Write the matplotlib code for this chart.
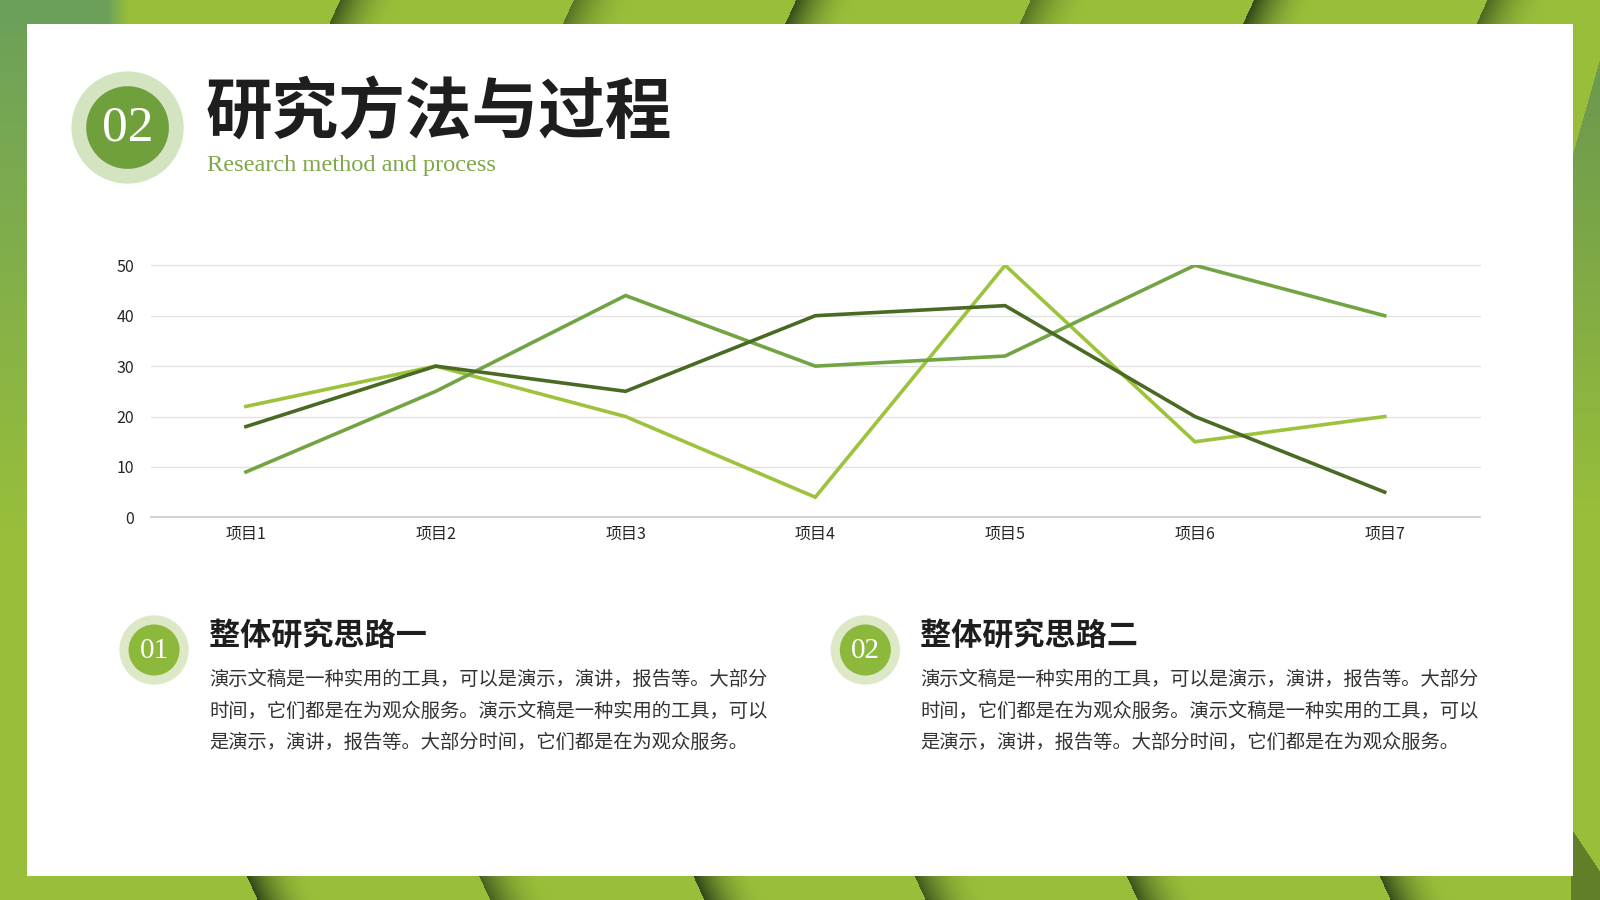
import numpy as np
import matplotlib
matplotlib.use("Agg")
import matplotlib.pyplot as plt
from matplotlib.patches import Rectangle, Circle

plt.rcParams["font.family"] = ["Noto Sans CJK SC", "DejaVu Sans"]

# данные графика
categories = ["项目1", "项目2", "项目3", "项目4", "项目5", "项目6", "项目7"]
series_light = [22, 30, 20, 4, 50, 15, 20]
series_mid = [9, 25, 44, 30, 32, 50, 40]
series_dark = [18, 30, 25, 40, 42, 20, 5]
y_ticks = [0, 10, 20, 30, 40, 50]

title = "研究方法与过程"
subtitle = "Research method and process"
headings = ["整体研究思路一", "整体研究思路二"]
badges = ["01", "02"]
body = ["演示文稿是一种实用的工具，可以是演示，演讲，报告等。大部分",
        "时间，它们都是在为观众服务。演示文稿是一种实用的工具，可以",
        "是演示，演讲，报告等。大部分时间，它们都是在为观众服务。"]

# размеры слайда (в "пикселях" референса)
W, H = 1568, 882

fig = plt.figure(figsize=(16, 9), dpi=100)

# фон с полосами
bg = fig.add_axes([0, 0, 1, 1])
bg.set_xlim(0, W)
bg.set_ylim(H, 0)
bg.axis("off")

xs = np.linspace(0, W, 1600)
ys = np.linspace(0, H, 900)
X, Y = np.meshgrid(xs, ys)
base = np.array([0x98, 0xbe, 0x3a]) / 255
dark = np.array([0x2a, 0x40, 0x16]) / 255
muted = np.array([0x6c, 0xa0, 0x5a]) / 255
img = np.ones((900, 1600, 3)) * base

# левая полоса и левый верхний угол
f = np.clip(1 - Y / 520, 0, 1) * (X < 30)
f = np.maximum(f, np.clip((125 - X) / 20, 0, 1) * (Y < 26))
img = img * (1 - f[..., None]) + muted * f[..., None]


def stripe(x0, top, strength):
    global img
    if top:
        edge = x0 - Y / 24 * 11
        band = Y < 26
    else:
        edge = x0 + (Y - 858) / 24 * 11
        band = Y > 856
    d = X - edge
    k = np.where((d >= 0) & (d < 60) & band, strength * (1 - d / 60) ** 2, 0)
    img = img * (1 - k[..., None]) + dark * k[..., None]


for x0, s in [(333, 0.8), (562, 0.6), (780, 0.9), (1010, 0.6), (1229, 0.95), (1458, 0.7)]:
    stripe(x0, True, s)
for x0, s in [(241, 0.95), (469, 0.75), (679, 0.95), (896, 0.8), (1104, 0.85), (1352, 0.9)]:
    stripe(x0, False, s)

# правая полоса
teal = np.array([0x5e, 0x8e, 0x55]) / 255
r = (X > 1540) & (Y > 60 + (1568 - X) * 3.5)
k = np.where(r, np.clip(1 - (Y - 80) / 420, 0, 1) * 0.75, 0)
img = img * (1 - k[..., None]) + teal * k[..., None]
r2 = (X > 1540) & (Y > 815 + (X - 1542) * 1.5)
k2 = np.where(r2, 0.5, 0)
img = img * (1 - k2[..., None]) + dark * k2[..., None]

bg.imshow(img, extent=(0, W, H, 0), aspect="auto", zorder=0)
bg.add_patch(Rectangle((26, 24), 1516, 834, facecolor="white", edgecolor="none", zorder=1))

# заголовок
bg.add_patch(Circle((125, 125), 55, facecolor="#d4e3c0", edgecolor="none", zorder=2))
bg.add_patch(Circle((125, 125), 40.5, facecolor="#70a03c", edgecolor="none", zorder=3))
bg.text(125, 126, "02", family="Liberation Serif", fontsize=37, color="white",
        ha="center", va="center", zorder=4)
bg.text(201, 112, title, fontsize=48, fontweight="bold", color="#1e1e1e",
        ha="left", va="center", zorder=4)
bg.text(203, 162, subtitle, family="Liberation Serif", fontsize=17.6, color="#7fa84a",
        ha="left", va="center", zorder=4)

# нижние блоки
for i, bx in enumerate([151, 848]):
    bg.add_patch(Circle((bx, 637), 34, facecolor="#dde9c6", edgecolor="none", zorder=2))
    bg.add_patch(Circle((bx, 637), 25, facecolor="#8cb83c", edgecolor="none", zorder=3))
    bg.text(bx, 638, badges[i], family="Liberation Serif", fontsize=21, color="white",
            ha="center", va="center", zorder=4)
    tx = bx + 54
    bg.text(tx, 623, headings[i], fontsize=22.4, fontweight="bold", color="#1e1e1e",
            ha="left", va="center", zorder=4)
    for j, line in enumerate(body):
        bg.text(tx, 666 + j * 31, line, fontsize=13.9, color="#333333",
                ha="left", va="center", zorder=4)

# линейный график
ax = fig.add_axes([148 / W, 1 - 507 / H, (1450 - 148) / W, (507 - 260) / H])
ax.set_facecolor("none")
xpos = np.arange(len(categories))
ax.plot(xpos, series_light, color="#9cc33b", lw=2.6, zorder=3, solid_joinstyle="miter")
ax.plot(xpos, series_mid, color="#73a443", lw=2.6, zorder=4, solid_joinstyle="miter")
ax.plot(xpos, series_dark, color="#4a6a24", lw=2.6, zorder=5, solid_joinstyle="miter")
ax.set_xlim(-0.5, len(categories) - 0.5)
ax.set_ylim(0, 50)
ax.set_yticks(y_ticks)
ax.set_xticks(xpos)
ax.set_xticklabels(categories)
for t in y_ticks[1:]:
    ax.axhline(t, color="#e2e2e2", lw=1, zorder=1, clip_on=False)
for s in ["top", "right", "left"]:
    ax.spines[s].set_visible(False)
ax.spines["bottom"].set_color("#c8c8c8")
ax.spines["bottom"].set_linewidth(1.2)
ax.tick_params(axis="both", length=0, labelsize=11.5, colors="#262626")
ax.tick_params(axis="y", pad=12)
ax.tick_params(axis="x", pad=6)

fig.savefig("out.png", dpi=100)
